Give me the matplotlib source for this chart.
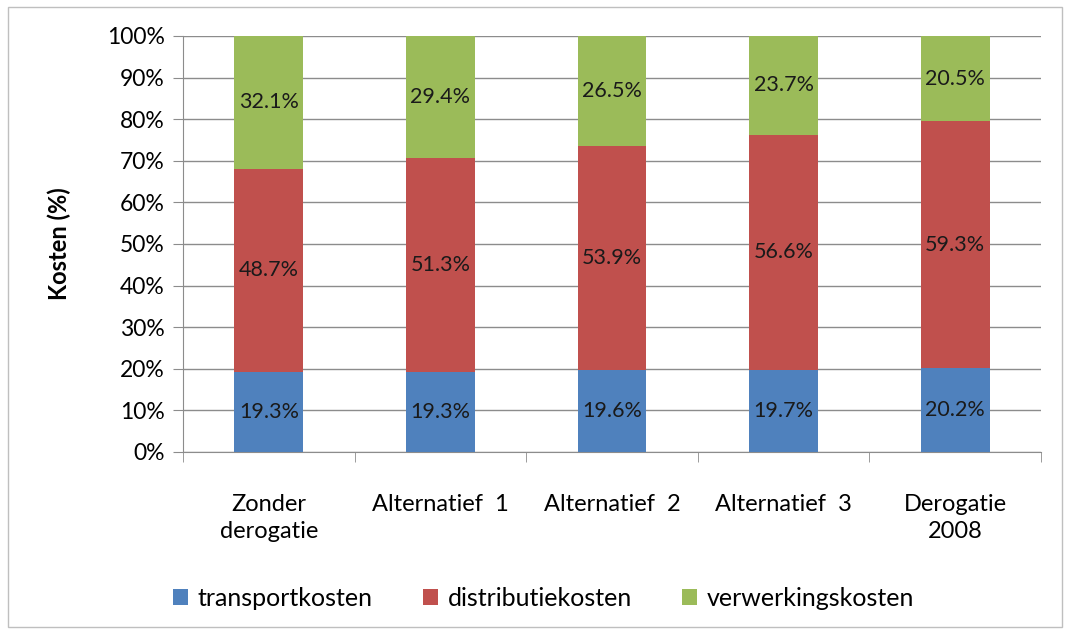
import numpy as np
import matplotlib
matplotlib.use('Agg')
from matplotlib import pyplot as plt
from matplotlib.patches import Rectangle
from matplotlib.ticker import PercentFormatter

plt.rcParams['font.family'] = ['Lato', 'DejaVu Sans']

# data
categories = ['Zonder\nderogatie', 'Alternatief  1', 'Alternatief  2', 'Alternatief  3', 'Derogatie\n2008']
transport = [19.3, 19.3, 19.6, 19.7, 20.2]
distributie = [48.7, 51.3, 53.9, 56.6, 59.3]
verwerking = [32.1, 29.4, 26.5, 23.7, 20.5]
series_names = ['transportkosten', 'distributiekosten', 'verwerkingskosten']
colors = ['#4F81BD', '#C0504D', '#9BBB59']

fig = plt.figure(figsize=(10.66, 6.34), dpi=100)
ax = fig.add_axes([183/1066, 1 - 452/634, 858/1066, 416/634])

# outer chart border
fig.patches.append(Rectangle((8/1066, 1 - 627/634), 1054/1066, 620/634,
                             transform=fig.transFigure, fill=False,
                             edgecolor='#BFBFBF', linewidth=1.0))

x = np.arange(len(categories))
bottom = np.zeros(len(categories))
for vals, name, col in zip([transport, distributie, verwerking], series_names, colors):
    vals = np.array(vals)
    ax.bar(x, vals, width=0.4, bottom=bottom, color=col, label=name, zorder=3)
    for xi, b, v in zip(x, bottom, vals):
        ax.text(xi, b + v / 2, f'{v:.1f}%', ha='center', va='center',
                fontsize=15.5, color='#1a1a1a', zorder=4)
    bottom += vals

ax.set_xlim(-0.5, len(categories) - 0.5)
ax.set_ylim(0, 100)
ax.set_yticks(np.arange(0, 101, 10))
ax.yaxis.set_major_formatter(PercentFormatter(decimals=0))
ax.grid(axis='y', color='#8C8C8C', linewidth=1.0, zorder=0)

ax.set_xticks(x)
ax.set_xticklabels(categories, fontsize=17, linespacing=1.4)
ax.tick_params(axis='x', length=0, pad=30)
ax.set_xticks(np.arange(-0.5, len(categories)), minor=True)
ax.tick_params(axis='x', which='minor', length=7, color='#8C8C8C')
ax.tick_params(axis='y', labelsize=16.5, length=7, color='#8C8C8C', pad=6)

for s in ['top', 'right']:
    ax.spines[s].set_visible(False)
ax.spines['left'].set_color('#8C8C8C')
ax.spines['bottom'].set_color('#8C8C8C')

ax.set_ylabel('Kosten (%)', fontsize=17, fontweight='bold', labelpad=26)

fig.legend(loc='center', bbox_to_anchor=(0.51, 1 - 598/634), ncol=3, frameon=False,
           fontsize=18, handlelength=0.6, handleheight=0.6, columnspacing=2.0,
           handletextpad=0.4)

fig.savefig('out.png', dpi=100)
